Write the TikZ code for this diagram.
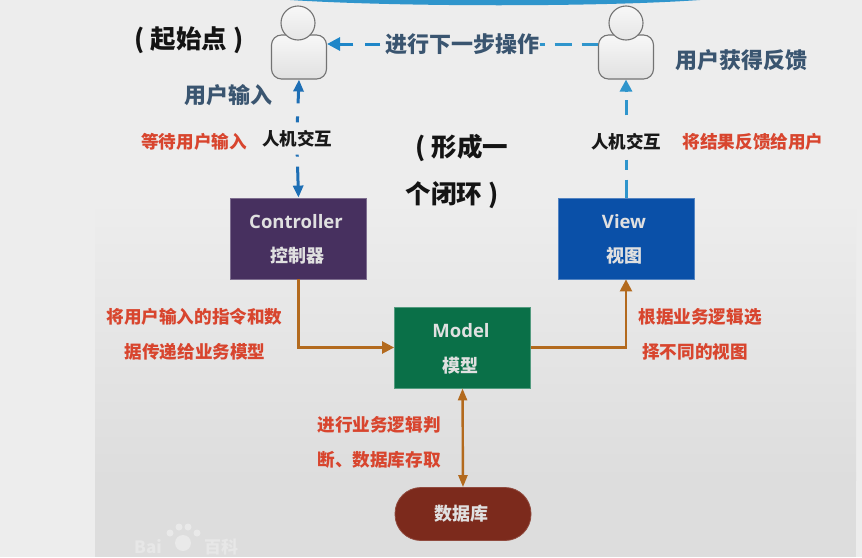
\documentclass[tikz,border=0pt]{standalone}
\usepackage{fontspec}
\setmainfont{Noto Sans CJK SC}
\newfontfamily\latinbold{Open Sans}
\usetikzlibrary{arrows.meta,positioning}
\definecolor{bgtop}{HTML}{EDEDED}
\definecolor{bgbot}{HTML}{DDDDDD}
\definecolor{ctrlc}{HTML}{47305F}
\definecolor{viewc}{HTML}{0A50A8}
\definecolor{modelc}{HTML}{0A7048}
\definecolor{dbc}{HTML}{7C2A1C}
\definecolor{arrowo}{HTML}{B36A1E}
\definecolor{arrowb}{HTML}{1E6FB5}
\definecolor{arrowc}{HTML}{2F95CC}
\definecolor{arrowm}{HTML}{1E86C8}
\definecolor{redt}{HTML}{D8452E}
\definecolor{navyt}{HTML}{3A5570}
\tikzset{
 boxn/.style={draw=#1!70!white,line width=.8pt,fill=#1,minimum width=136pt,minimum height=81pt,inner sep=0pt},
 boxt/.style={text=white!88!black,font=\bfseries\fontsize{18}{18}\selectfont,inner sep=0pt},
 boxl/.style={text=white!88!black,font=\bfseries\fontsize{18.5}{18.5}\selectfont\latinbold,inner sep=0pt},
 redl/.style={text=redt,font=\bfseries\fontsize{17.6}{17.6}\selectfont,inner sep=0pt},
 navyl/.style={text=navyt,font=\bfseries\fontsize{22}{22}\selectfont,inner sep=0pt},
 blackl/.style={text=black!90,font=\bfseries\fontsize{17.5}{17.5}\selectfont,inner sep=0pt},
 bigl/.style={text=black!92,font=\bfseries\fontsize{25.5}{25.5}\selectfont,inner sep=0pt},
 bodyn/.style={draw=black!55,line width=1.1pt,rounded corners=10pt,top color=white!97!black,bottom color=black!12,minimum width=55pt,minimum height=44pt,inner sep=0pt},
 headn/.style={draw=black!55,line width=1.1pt,circle,top color=white!97!black,bottom color=black!10,minimum size=34pt,inner sep=0pt},
 oarrow/.style={draw=arrowo,line width=2.4pt,-{Triangle[length=12pt,width=12pt]}},
 odouble/.style={draw=arrowo,line width=2.4pt,{Triangle[length=12pt,width=9pt]}-{Triangle[length=12pt,width=9pt]}},
 bline/.style={line width=3pt},
}
\begin{document}
\begin{tikzpicture}[x=1pt,y=-1pt]
\useasboundingbox (0,0) rectangle (862,557);
\fill[bgtop] (0,0) rectangle (862,557);
\shade[top color=bgtop,bottom color=bgbot] (95,200) rectangle (856,480);
\fill[bgbot] (95,480) rectangle (856,557);
\fill[arrowc] (290,0) -- (700,0) .. controls (600,7) and (400,7) .. (290,0) -- cycle;
% watermark
\foreach \x/\y/\r in {170/533/3.5,179/527/3.5,188/527/3.5,197/533/3.5}{\fill[white!35!bgbot] (\x,\y) circle (\r pt);}
\fill[white!35!bgbot] (183,543) circle (8pt);
\node (wm1) at (148,547) [text=white!30!bgbot,font=\bfseries\fontsize{17}{17}\selectfont,inner sep=0pt] {Bai};
\node (wm2) at (221,547) [text=white!30!bgbot,font=\bfseries\fontsize{17}{17}\selectfont,inner sep=0pt] {百科};
% people
\node[bodyn] (userL) at (299,57) {};
\node[headn] (headL) at (298,23) {};
\node[bodyn] (userR) at (626,57) {};
\node[headn] (headR) at (626,23) {};
% boxes
\node[boxn=ctrlc] (ctrl) at (298.5,238.5) {};
\node[boxn=viewc] (view) at (626,238.5) {};
\node[boxn=modelc] (model) at (462.5,347.5) {};
\node[draw=dbc!85!white,fill=dbc,line width=.8pt,rounded corners=26pt,minimum width=136pt,minimum height=53pt,inner sep=0pt] (db) at (463,514) {};
\node[boxl] (ct1) at (296,222) {Controller};
\node[boxt] (ct2) at (297,256) {控制器};
\node[boxl] (vt1) at (624,222) {View};
\node[boxt] (vt2) at (624,256) {视图};
\node[boxl] (mt1) at (461,331) {Model};
\node[boxt] (mt2) at (460,366) {模型};
\node[boxt] (dbt) at (461,514) {数据库};
% labels
\node[bigl] (start) at (189,40) {( 起始点 )};
\node[bigl] (loop1) at (462,148) {( 形成一};
\node[bigl] (loop2) at (452,195) {个闭环 )};
\node[navyl] (uin) at (228,95) {用户输入};
\node[navyl] (next) at (462.5,44) {进行下一步操作};
\node[navyl] (ufb) at (741,60) {用户获得反馈};
\node[blackl] (hciL) at (297,139) {人机交互};
\node[blackl] (hciR) at (626,142) {人机交互};
\node[redl] (wait) at (194,142) {等待用户输入};
\node[redl] (back) at (753,142) {将结果反馈给用户};
\node[redl] (c1) at (194.5,317) {将用户输入的指令和数};
\node[redl] (c2) at (195,352) {据传递给业务模型};
\node[redl] (v1) at (700,317) {根据业务逻辑选};
\node[redl] (v2) at (695,352) {择不同的视图};
\node[redl] (d1) at (379,425) {进行业务逻辑判};
\node[redl] (d2) at (379,460) {断、数据库存取};
% connectors
\coordinate (cm) at (ctrl.south |- model.west);
\coordinate (vm) at (view.south |- model.east);
\draw[oarrow] (ctrl.south) -- (cm) -- (model.west);
\draw[oarrow] (model.east) -- (vm) -- (view.south);
\draw[odouble] (model.south) -- (db.north);
\draw[arrowb,bline,dash pattern=on 0pt off 8pt on 6pt off 13pt on 40pt,-{Triangle[length=12pt,width=10pt]}] (hciL.north) -- (userL.south);
\draw[arrowb,bline,dash pattern=on 0pt off 7pt on 2pt off 10pt on 50pt,-{Triangle[length=12pt,width=10pt]}] (hciL.south) -- (ctrl.north);
\draw[arrowc,bline,dash pattern=on 0pt off 18pt on 15pt off 8pt on 30pt,-{Triangle[length=12pt,width=12pt]}] (hciR.north) -- (userR.south);
\draw[arrowc,bline,dash pattern=on 0pt off 9pt on 10pt off 10pt on 40pt] (hciR.south) -- (view.north);
\draw[arrowm,bline,dash pattern=on 0pt off 5pt on 15pt off 12pt on 40pt,-{Triangle[length=13pt,width=13pt]}] (next.west) -- (userL.east |- next.west);
\draw[arrowc,bline,dash pattern=on 5pt off 10pt on 17pt off 10pt on 30pt] (next.east) -- (userR.west |- next.east);
\end{tikzpicture}
\end{document}
